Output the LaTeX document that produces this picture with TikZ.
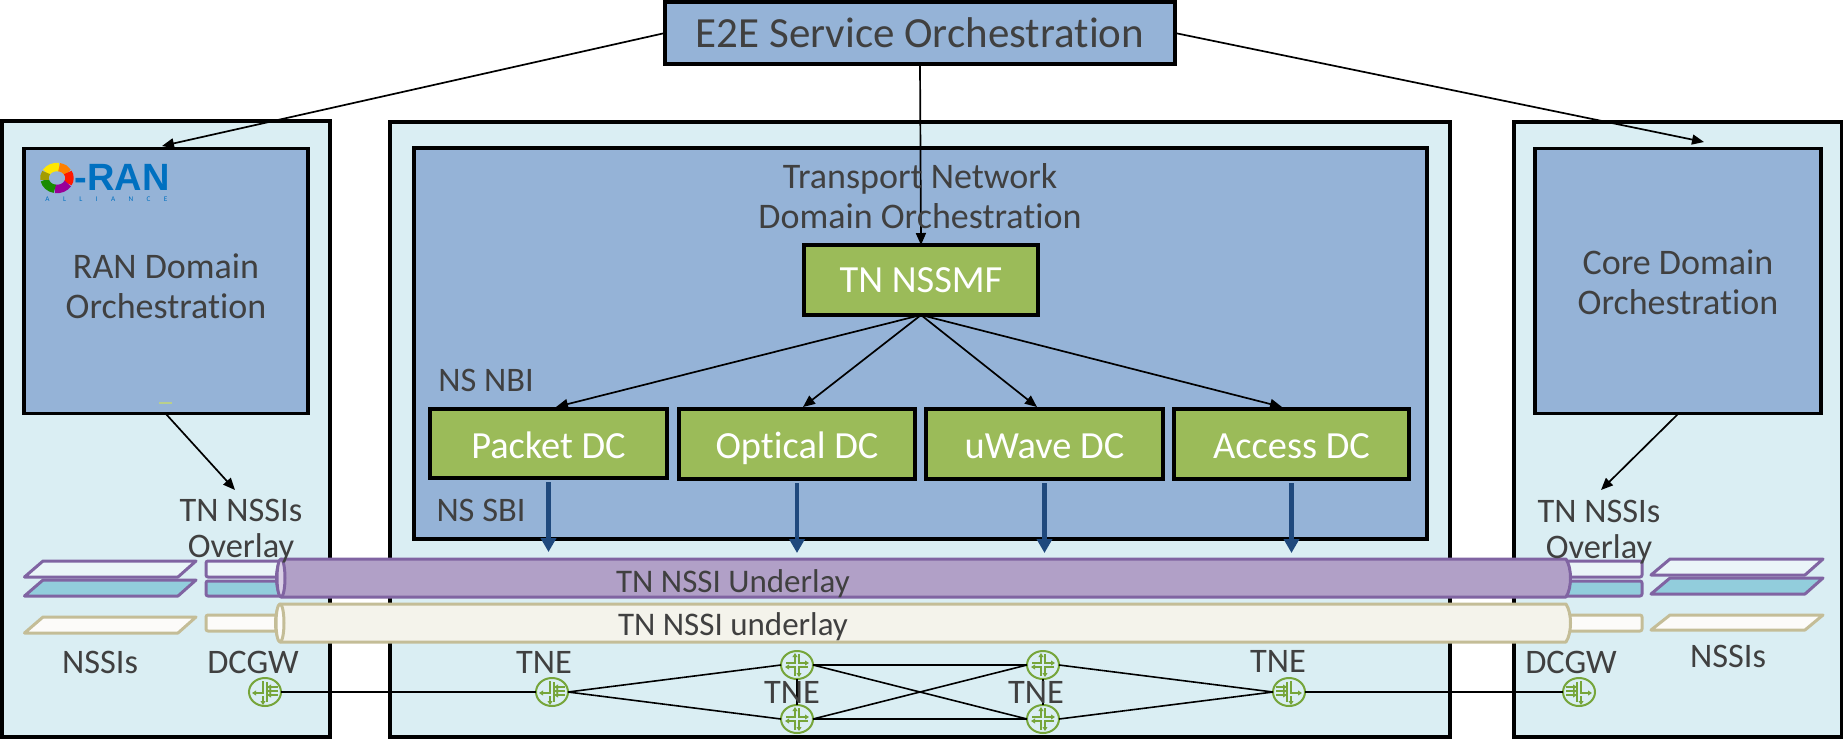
\documentclass[tikz,border=0pt]{standalone}
\usepackage{fontspec}
\setmainfont[Ligatures=NoCommon]{Carlito}
\newfontfamily\oranfont{Liberation Sans}
\usetikzlibrary{arrows.meta,shapes.geometric}

\definecolor{domainblue}{HTML}{95B3D7}
\definecolor{paleblue}{HTML}{DAEEF3}
\definecolor{dcgreen}{HTML}{9BBB59}
\definecolor{routergreen}{HTML}{76A53A}
\definecolor{sbiblue}{HTML}{1F497D}
\definecolor{labelgrey}{HTML}{404040}
\definecolor{nssipurple}{HTML}{8064A2}
\definecolor{tubepurple}{HTML}{B1A0C7}
\definecolor{tubelilac}{HTML}{D9CFE6}
\definecolor{nssibeige}{HTML}{C4BD97}
\definecolor{tubecream}{HTML}{F4F3EB}
\definecolor{stubwhite}{HTML}{FCFBF9}
\definecolor{stubpale}{HTML}{EAF5F8}
\definecolor{stubteal}{HTML}{92CDDC}
\definecolor{oranblue}{HTML}{0070C0}

\tikzset{
  pxsize/.style 2 args={minimum width=#1*0.5pt, minimum height=#2*0.5pt},
  outerbox/.style={draw=black, line width=1.6pt, fill=paleblue, inner sep=0pt, outer sep=0pt},
  orchbox/.style={draw=black, line width=1.8pt, fill=domainblue, inner sep=0pt, outer sep=0pt},
  dcbox/.style={draw=black, line width=1.8pt, fill=dcgreen, text=white, inner sep=0pt, outer sep=0pt, text height=16pt, text depth=1.5pt, font=\fontsize{19.2}{22}\selectfont},
  lbl/.style={text=labelgrey, inner sep=0pt, align=center, font=\fontsize{17.2}{20}\selectfont},
  biglbl/.style={lbl, font=\fontsize{18}{20}\selectfont},
  ovllbl/.style={lbl, font=\fontsize{17.2}{18}\selectfont},
  tubelbl/.style={lbl, font=\fontsize{16.5}{20}\selectfont},
  routernode/.style={draw=routergreen, line width=1pt, fill=paleblue, ellipse, pxsize={32}{28}, inner sep=0pt, outer sep=0pt},
  ctrl/.style={black, line width=0.85pt, -{Triangle[length=6pt,width=5pt]}},
  sbi/.style={sbiblue, line width=2.1pt, -{Triangle[length=7pt,width=7.5pt]}},
  link/.style={black, line width=0.8pt},
  glyph/.style={routergreen, line width=0.6pt},
  glyphtip/.style={glyph, -{Triangle[length=2pt,width=2.4pt]}},
  purpleline/.style={draw=nssipurple, line width=1.5pt, line join=round},
  beigeline/.style={draw=nssibeige, line width=1.5pt, line join=round},
  routercross/.pic={
    \foreach \r in {0,90,180,270}
      \draw[glyphtip, rotate=\r] (2,-11) -- (2,-2) -- (12,-2);
  },
  routeredge/.pic={
    \draw[glyphtip] (-2,-11) -- (-2,1) -- (-13,1);
    \draw[glyphtip] (-2,4) -- (-2,13);
    \draw[glyph] (2,-10) -- (2,10);
    \foreach \v in {-5,-1,3}
      \draw[glyphtip] (13,\v) -- (2,\v);
  }
}

\begin{document}
\begin{tikzpicture}[x=0.5pt, y=-0.5pt]
  \useasboundingbox (0,0) rectangle (1843,741);

  % Shapes reused for the tubes
  \def\tubeA{(281,559) -- (1566,559) .. controls (1572,568) and (1572,588) .. (1566,597) -- (281,597) .. controls (275,588) and (275,568) .. (281,559) -- cycle}
  \def\tubeB{(280,604) -- (1566,604) .. controls (1572,613) and (1572,633) .. (1566,642) -- (280,642) .. controls (274,633) and (274,613) .. (280,604) -- cycle}

  % Domain panels
  \node[outerbox, pxsize={328}{616}] (ranpanel) at (166,429) {};
  \node[outerbox, pxsize={1060}{615}] (tnpanel) at (920,429.5) {};
  \node[outerbox, pxsize={328}{615}] (corepanel) at (1678,429.5) {};

  % Orchestrators
  \node[orchbox, pxsize={510}{62}, font=\fontsize{21.5}{24}\selectfont, text=labelgrey] (e2e) at (920,33) {E2E Service Orchestration};
  \node[orchbox, pxsize={284}{265}] (ran) at (166,281) {};
  \node[orchbox, pxsize={1013}{391}] (tn) at (920.5,343.5) {};
  \node[orchbox, pxsize={286}{265}] (core) at (1678,281) {};

  % Controllers
  \node[dcbox, pxsize={234}{70}, text height=14pt] (nssmf) at (921,280) {TN NSSMF};
  \node[dcbox, pxsize={237}{69}] (packet) at (548.5,443.5) {Packet DC};
  \node[dcbox, pxsize={236}{70}] (optical) at (797,444) {Optical DC};
  \node[dcbox, pxsize={237}{70}] (uwave) at (1044.5,444) {uWave DC};
  \node[dcbox, pxsize={235}{70}] (access) at (1291.5,444) {Access DC};

  % O-RAN mark
  \foreach \from/\to/\col in {-150/-80/yellow!90!orange, -80/-30/orange, -30/30/red!80!orange, 30/100/violet!80!magenta, 100/170/green!50!black!90!yellow, 170/210/olive!80!yellow}
    \draw[line width=4.2pt, \col] (57,178) ++(\from:12.5 and 11) arc [start angle=\from, end angle=\to, x radius=12.5, y radius=11];
  \node[inner sep=0pt, text=oranblue, font=\oranfont\fontsize{19}{20}\bfseries\selectfont] (oranmark) at (122,177.5) {-RAN};
  \node[inner sep=0pt, text=oranblue, font=\fontsize{3.6}{4}\selectfont] (oransub) at (106.5,199) {\makebox[61pt][s]{A\hfil L\hfil L\hfil I\hfil A\hfil N\hfil C\hfil E}};
  \draw[dcgreen!70!white, line width=0.8pt] (159,403) -- (172,403);

  % Free ends of the control arrows
  \coordinate (rantip) at (162,146);
  \coordinate (coretip) at (1704,142);
  \coordinate (ranout) at (166,414);
  \coordinate (ranovl) at (235,490);
  \coordinate (coreout) at (1678,414);
  \coordinate (coreovl) at (1601,490);
  \coordinate (packettip) at (556,407);
  \coordinate (opticaltip) at (803,407);
  \coordinate (uwavetip) at (1037,407);
  \coordinate (accesstip) at (1282,407);

  \draw[ctrl] (e2e.west) -- (rantip);
  \draw[ctrl] (e2e.east) -- (coretip);
  \draw[ctrl] (e2e.south) -- (nssmf.north);
  \draw[ctrl] (ranout) -- (ranovl);
  \draw[ctrl] (coreout) -- (coreovl);
  \foreach \t in {packettip,opticaltip,uwavetip,accesstip}
    \draw[ctrl] (nssmf.south) -- (\t);

  % Slices on both sides
  \begin{scope}[purpleline]
    \draw[fill=stubpale] (24.5,577) -- (178,577) -- (196,561) -- (43,561) -- cycle;
    \draw[fill=stubteal] (24.5,596) -- (178,596) -- (196,580) -- (43,580) -- cycle;
    \draw[fill=stubpale] (1651,575) -- (1805,575) -- (1823,559) -- (1670,559) -- cycle;
    \draw[fill=stubteal] (1651,594) -- (1805,594) -- (1823,578) -- (1670,578) -- cycle;
    \draw[fill=stubpale, rounded corners=1pt] (206,561) rectangle (1642,577);
    \draw[fill=stubteal, rounded corners=1pt] (206,581) rectangle (1642,596);
  \end{scope}
  \begin{scope}[beigeline]
    \draw[fill=stubwhite] (24.5,633) -- (178,633) -- (196,617) -- (43,617) -- cycle;
    \draw[fill=stubwhite] (1651,630) -- (1805,630) -- (1823,615) -- (1670,615) -- cycle;
    \draw[fill=stubwhite, rounded corners=1pt] (206,615) rectangle (1642,631);
  \end{scope}

  % Tubes
  \draw[purpleline, fill=tubepurple] \tubeA;
  \draw[purpleline, fill=tubelilac] (281,578) ellipse [x radius=4, y radius=19];
  \draw[beigeline, fill=tubecream] \tubeB;
  \draw[beigeline, fill=stubwhite] (280,623) ellipse [x radius=4, y radius=19];

  % Southbound arrows
  \foreach \b in {packet,optical,uwave,access}
    \draw[sbi] ([yshift=-2pt]\b.south) -- ([yshift=-37pt]\b.south);

  % Routers
  \node[routernode] (dcgwl) at (265,692) {};
  \node[routernode] (tnel) at (552,692) {};
  \node[routernode] (tneul) at (797,665) {};
  \node[routernode] (tnell) at (797,719) {};
  \node[routernode] (tneur) at (1043,665) {};
  \node[routernode] (tnelr) at (1043,719) {};
  \node[routernode] (tner) at (1289,692) {};
  \node[routernode] (dcgwr) at (1579,692) {};
  \foreach \n in {tneul,tnell,tneur,tnelr}
    \pic at (\n) {routercross};
  \foreach \n in {dcgwl,tnel}
    \pic at (\n) {routeredge};
  \foreach \n in {tner,dcgwr}
    \pic[xscale=-1] at (\n) {routeredge};

  % Links
  \draw[link] (dcgwl.east) -- (tnel.west);
  \draw[link] (tnel.east) -- (tneul.west);
  \draw[link] (tnel.east) -- (tnell.west);
  \draw[link] (tneul.east) -- (tneur.west);
  \draw[link] (tnell.east) -- (tnelr.west);
  \draw[link] (tneul.east) -- (tnelr.west);
  \draw[link] (tnell.east) -- (tneur.west);
  \draw[link] (tneul.south) -- (tnell.north);
  \draw[link] (tneur.south) -- (tnelr.north);
  \draw[link] (tneur.east) -- (tner.west);
  \draw[link] (tnelr.east) -- (tner.west);
  \draw[link] (tner.east) -- (dcgwr.west);

  % Labels
  \node[biglbl] (ranlbl) at (166,286) {RAN Domain\\Orchestration};
  \node[biglbl] (corelbl) at (1678,282) {Core Domain\\Orchestration};
  \node[biglbl] (tnlbl) at (920,196) {Transport Network\\Domain Orchestration};
  \node[lbl] (nbilbl) at (486,380) {NS NBI};
  \node[lbl] (sbilbl) at (481,510) {NS SBI};
  \node[ovllbl] (ovll) at (241,531) {TN NSSIs\\Overlay};
  \node[ovllbl] (ovlr) at (1599,532) {TN NSSIs\\Overlay};
  \node[tubelbl] (undera) at (733,583.5) {TN NSSI Underlay};
  \node[tubelbl] (underb) at (733,626.5) {TN NSSI underlay};
  \node[lbl] (nssil) at (100,662) {NSSIs};
  \node[lbl] (nssir) at (1728,656) {NSSIs};
  \node[lbl] (dcgwlbll) at (253,662) {DCGW};
  \node[lbl] (dcgwlblr) at (1571,662) {DCGW};
  \node[lbl] (tnelbla) at (544,662) {TNE};
  \node[lbl] (tnelblb) at (792,692) {TNE};
  \node[lbl] (tnelblc) at (1036,692) {TNE};
  \node[lbl] (tnelbld) at (1278,661) {TNE};
\end{tikzpicture}
\end{document}
